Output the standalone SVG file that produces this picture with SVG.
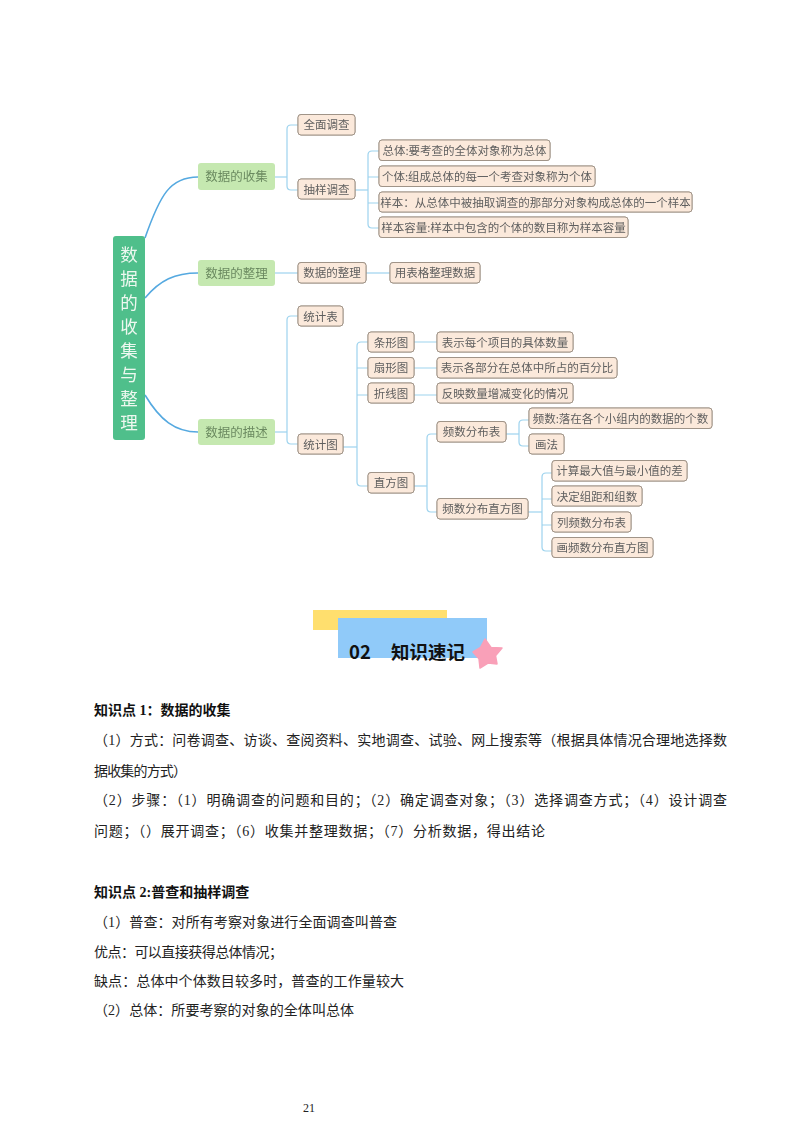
<svg xmlns="http://www.w3.org/2000/svg" width="800" height="1132" viewBox="0 0 800 1132">
<defs>
<filter id="soft" x="-5%" y="-5%" width="110%" height="110%"><feGaussianBlur stdDeviation="0.4"/></filter>
</defs>
<style>
text{font-family:"Noto Sans CJK SC",sans-serif}
.n rect{fill:#fbe9db;stroke:#a09488;stroke-width:1;filter:drop-shadow(0.8px 0.8px 0 #a89c90)}
.n text{font-size:11.5px;fill:#5e5e5e;text-anchor:middle}
.l1 rect{fill:#c5e8b0;stroke:none}
.l1 text{font-size:12.5px;fill:#6b8a60;text-anchor:middle}
.root rect{fill:#4fbf8b}
.root text{font-size:17.5px;fill:#eef8f0;text-anchor:middle}
.c{fill:none;stroke:#9dd3ee;stroke-width:1.2}
.m{fill:none;stroke:#55a9e0;stroke-width:1.6}
.b{font-family:"Liberation Serif","Noto Sans CJK SC",serif;font-size:14px;fill:#222}
.h{font-family:"Liberation Serif","Noto Sans CJK SC",serif;font-size:14px;font-weight:700;fill:#111}
</style>
<rect width="800" height="1132" fill="#fff"/>
<g filter="url(#soft)">
<g id="connectors">
<path class="m" d="M145,238C160,195 170,177 198,177"/>
<path class="m" d="M145,298C160,280 175,273 198,273"/>
<path class="m" d="M145,395C160,420 175,432 198,432"/>
<path class="c" d="M275,177H287"/>
<path class="c" d="M298,125H291Q287,125 287,129V186Q287,190 291,190H298"/>
<path class="c" d="M275,273H298"/>
<path class="c" d="M366,273H390"/>
<path class="c" d="M275,432H287"/>
<path class="c" d="M298,316H291Q287,316 287,320V440Q287,444 291,444H298"/>
<path class="c" d="M355,190H368"/>
<path class="c" d="M379,151H372Q368,151 368,155V224Q368,228 372,228H379M368,177H379M368,203H379"/>
<path class="c" d="M343,447H357"/>
<path class="c" d="M368,342H361Q357,342 357,346V482Q357,486 361,486H368M357,368H368M357,395H368"/>
<path class="c" d="M414,342H437M414,368H437M414,395H437"/>
<path class="c" d="M414,486H427"/>
<path class="c" d="M437,434H431Q427,434 427,438V508Q427,512 431,512H437"/>
<path class="c" d="M506,434H519"/>
<path class="c" d="M529,420H523Q519,420 519,424V442Q519,446 523,446H529"/>
<path class="c" d="M528,512H542"/>
<path class="c" d="M552,473H546Q542,473 542,477V547Q542,551 546,551H552M542,499H552M542,525H552"/>
</g>
<g id="root" class="root"><rect x="113" y="236" width="32" height="204" rx="3"/>
<text x="129" y="261">数</text><text x="129" y="285">据</text><text x="129" y="309">的</text><text x="129" y="333">收</text><text x="129" y="357">集</text><text x="129" y="381">与</text><text x="129" y="405">整</text><text x="129" y="429">理</text></g>
<g id="a1" class="l1"><rect x="198" y="163" width="77" height="27" rx="3"/><text x="236.500" y="181">数据的收集</text></g>
<g id="a2" class="l1"><rect x="198" y="260" width="77" height="26" rx="3"/><text x="236.500" y="278">数据的整理</text></g>
<g id="a3" class="l1"><rect x="198" y="419" width="77" height="26" rx="3"/><text x="236.500" y="437">数据的描述</text></g>
<g id="b1" class="n"><rect x="298" y="114.500" width="57" height="20.500" rx="3"/><text x="326.500" y="129">全面调查</text></g>
<g id="b2" class="n"><rect x="298" y="179" width="57" height="20" rx="3"/><text x="326.500" y="193.500">抽样调查</text></g>
<g id="b3" class="n"><rect x="298" y="262.500" width="68" height="20.500" rx="3"/><text x="332" y="277">数据的整理</text></g>
<g id="b4" class="n"><rect x="298" y="306" width="45" height="20" rx="3"/><text x="320.500" y="320.500">统计表</text></g>
<g id="b5" class="n"><rect x="298" y="434" width="45" height="20" rx="3"/><text x="320.500" y="448.500">统计图</text></g>
<g id="c1" class="n"><rect x="379" y="140" width="171" height="20.500" rx="3"/><text x="464.500" y="154.500">总体:要考查的全体对象称为总体</text></g>
<g id="c2" class="n"><rect x="379" y="166" width="216" height="20.500" rx="3"/><text x="487" y="180.500">个体:组成总体的每一个考查对象称为个体</text></g>
<g id="c3" class="n"><rect x="379" y="192" width="313" height="20" rx="3"/><text x="535.500" y="206.500">样本：从总体中被抽取调查的那部分对象构成总体的一个样本</text></g>
<g id="c4" class="n"><rect x="379" y="217" width="249" height="20.500" rx="3"/><text x="503.500" y="231.500">样本容量:样本中包含的个体的数目称为样本容量</text></g>
<g id="c5" class="n"><rect x="390" y="262.500" width="90" height="20.500" rx="3"/><text x="435" y="277">用表格整理数据</text></g>
<g id="d1" class="n"><rect x="368" y="332" width="46" height="20" rx="3"/><text x="391" y="346.500">条形图</text></g>
<g id="d2" class="n"><rect x="368" y="357.500" width="46" height="20.500" rx="3"/><text x="391" y="372">扇形图</text></g>
<g id="d3" class="n"><rect x="368" y="383" width="46" height="20" rx="3"/><text x="391" y="397.500">折线图</text></g>
<g id="d4" class="n"><rect x="368" y="472.500" width="46" height="20.500" rx="3"/><text x="391" y="487">直方图</text></g>
<g id="e1" class="n"><rect x="437" y="332" width="136" height="20" rx="3"/><text x="505" y="346.500">表示每个项目的具体数量</text></g>
<g id="e2" class="n"><rect x="437" y="357.500" width="180" height="20.500" rx="3"/><text x="527" y="372">表示各部分在总体中所占的百分比</text></g>
<g id="e3" class="n"><rect x="437" y="383" width="136" height="20" rx="3"/><text x="505" y="397.500">反映数量增减变化的情况</text></g>
<g id="e4" class="n"><rect x="437" y="421.500" width="69" height="20.500" rx="3"/><text x="471.500" y="436">频数分布表</text></g>
<g id="e5" class="n"><rect x="437" y="498.500" width="91" height="20.500" rx="3"/><text x="482.500" y="513">频数分布直方图</text></g>
<g id="f1" class="n"><rect x="529" y="408" width="183" height="20.500" rx="3"/><text x="620.500" y="422.500">频数:落在各个小组内的数据的个数</text></g>
<g id="f2" class="n"><rect x="529" y="434" width="35" height="20" rx="3"/><text x="546.500" y="448.500">画法</text></g>
<g id="f3" class="n"><rect x="552" y="460.500" width="135" height="20.500" rx="3"/><text x="619.500" y="475">计算最大值与最小值的差</text></g>
<g id="f4" class="n"><rect x="552" y="486" width="90" height="20" rx="3"/><text x="597" y="500.500">决定组距和组数</text></g>
<g id="f5" class="n"><rect x="552" y="512" width="79" height="20" rx="3"/><text x="591.500" y="526.500">列频数分布表</text></g>
<g id="f6" class="n"><rect x="552" y="537.500" width="101" height="20" rx="3"/><text x="602.500" y="552">画频数分布直方图</text></g>
</g>
<rect x="313" y="610" width="134" height="20" fill="#ffdf6e"/>
<rect x="338" y="618" width="149" height="40" fill="#90caf9"/>
<path d="M485,639L491,647.500L502,648L495.500,655.700L497,664L488,663L480,668L479,658.700L473,652L480.600,647.400Z" fill="#f9a0b8" stroke="#f9a0b8" stroke-linejoin="round" stroke-width="1.500"/>
<text x="349" y="659" style="font-size:18.500px;font-weight:700;fill:#111">02</text>
<text x="391" y="659" style="font-size:18.500px;font-weight:700;fill:#111">知识速记</text>
<text class="h" x="94" y="715">知识点 1：数据的收集</text>
<text class="b" x="94" y="745" textLength="633" lengthAdjust="spacing">（1）方式：问卷调查、访谈、查阅资料、实地调查、试验、网上搜索等（根据具体情况合理地选择数</text>
<text class="b" x="94" y="776" textLength="93" lengthAdjust="spacing">据收集的方式）</text>
<text class="b" x="94" y="805" textLength="633" lengthAdjust="spacing">（2）步骤：（1）明确调查的问题和目的；（2）确定调查对象；（3）选择调查方式；（4）设计调查</text>
<text class="b" x="94" y="836" textLength="451" lengthAdjust="spacing">问题；（）展开调查；（6）收集并整理数据；（7）分析数据，得出结论</text>
<text class="h" x="94" y="897">知识点 2:普查和抽样调查</text>
<text class="b" x="94" y="927" textLength="303" lengthAdjust="spacing">（1）普查：对所有考察对象进行全面调查叫普查</text>
<text class="b" x="94" y="957" textLength="189" lengthAdjust="spacing">优点：可以直接获得总体情况；</text>
<text class="b" x="94" y="986" textLength="310" lengthAdjust="spacing">缺点：总体中个体数目较多时，普查的工作量较大</text>
<text class="b" x="94" y="1015" textLength="260" lengthAdjust="spacing">（2）总体：所要考察的对象的全体叫总体</text>
<text x="309" y="1112" text-anchor="middle" style="font-family:'Liberation Serif',serif;font-size:12px;fill:#222">21</text>
</svg>
